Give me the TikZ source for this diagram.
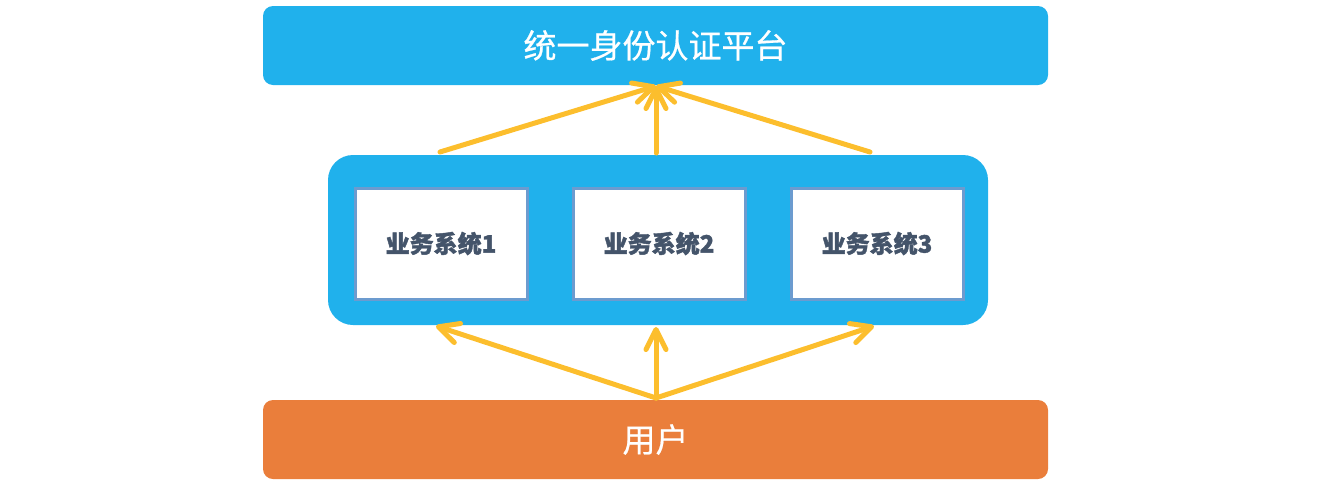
\documentclass[tikz,border=0pt]{standalone}
\usepackage{fontspec}
\newfontfamily\cjk[FakeBold=0.6]{Noto Sans CJK SC}
\newfontfamily\cjkheavy[BoldFeatures={FakeBold=1.5}]{Noto Sans CJK SC}
\usetikzlibrary{arrows.meta}
\definecolor{topblue}{HTML}{20B1EC}
\definecolor{usrorange}{HTML}{EA7E3B}
\definecolor{arrowy}{HTML}{FCBE2D}
\definecolor{innerborder}{HTML}{6C9BCF}
\definecolor{txtgray}{HTML}{44546A}
\begin{document}
\begin{tikzpicture}[x=1pt,y=-1pt,
  bar/.style={fill=topblue,rounded corners=10pt,minimum width=785pt,minimum height=79pt,inner sep=0pt,text=white,font=\cjk\fontsize{33}{38}\selectfont},
  sysbox/.style={fill=white,draw=innerborder,line width=3pt,minimum width=172pt,minimum height=111pt,inner sep=0pt,text=txtgray,font=\cjkheavy\bfseries\fontsize{24}{28}\selectfont},
  arr/.style={draw=arrowy,line width=5pt,line cap=round,-{Straight Barb[length=20pt,width=20pt,round]}}
]
\useasboundingbox (0,0) rectangle (1324,480);
\node[bar] (top) at (655.5,45.5) {统一身份认证平台};
\node[bar,fill=usrorange] (user) at (655.5,439.5) {用户};
\node[fill=topblue,rounded corners=25pt,minimum width=660pt,minimum height=170pt,inner sep=0pt] (cont) at (658,240) {};
\node[sysbox] (s1) at (441,243.5) {业务系统1};
\node[sysbox] (s2) at (659,243.5) {业务系统2};
\node[sysbox] (s3) at (877,243.5) {业务系统3};
\coordinate (tt) at (656,86);
\coordinate (a1) at (440,152);
\coordinate (a2) at (656,153);
\coordinate (a3) at (870,152);
\coordinate (ub) at (656,398);
\coordinate (b1) at (436,326);
\coordinate (b2) at (656,327);
\coordinate (b3) at (874,326);
\draw[arr] (a1) -- (tt);
\draw[arr] (a2) -- (tt);
\draw[arr] (a3) -- (tt);
\draw[arr] (ub) -- (b1);
\draw[arr] (ub) -- (b2);
\draw[arr] (ub) -- (b3);
\end{tikzpicture}
\end{document}
